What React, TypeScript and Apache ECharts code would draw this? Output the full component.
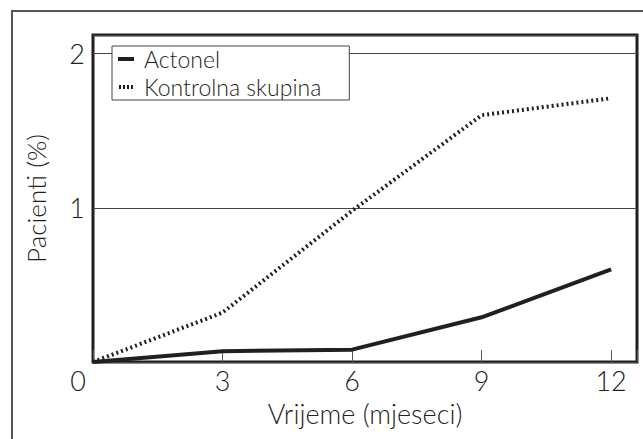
import React, { useEffect, useRef } from "react";
import * as echarts from "echarts";

const months = [0, 3, 6, 9, 12];
const actonel = [0, 0.07, 0.08, 0.29, 0.6];
const kontrolna = [0, 0.32, 0.98, 1.6, 1.71];
const seriesNames = ["Actonel", "Kontrolna skupina"];
const xTitle = "Vrijeme (mjeseci)";
const yTitle = "Pacienti (%)";
const originLabel = "0";

const FONT = "Lato";
const INK = "#231f20";
const SOLID_ICON = "path://M0,0H16V4H0Z";
const DOT_ICON = "path://M0,0H2V4H0Z M4,0H6V4H4Z M8,0H10V4H8Z M12,0H14V4H12Z";

export default function App() {
  const ref = useRef<HTMLDivElement>(null);
  useEffect(() => {
    if (!ref.current) return;
    const chart = echarts.init(ref.current, null, { renderer: "svg" });
    chart.setOption({
      animation: false,
      backgroundColor: "#ffffff",
      textStyle: { fontFamily: FONT, color: INK, fontWeight: 300 },
      grid: {
        left: 93,
        right: 6,
        top: 35,
        bottom: 77,
        show: true,
        borderColor: INK,
        borderWidth: 3,
        backgroundColor: "transparent",
      },
      legend: {
        orient: "vertical",
        left: 112,
        top: 46,
        backgroundColor: "#ffffff",
        borderColor: "#444",
        borderWidth: 1,
        borderRadius: 0,
        padding: [0, 28, 0, 6],
        itemGap: 2,
        itemWidth: 16,
        itemHeight: 4,
        textStyle: {
          fontFamily: FONT,
          fontWeight: 300,
          fontSize: 23,
          color: INK,
          lineHeight: 26,
          padding: [0, 0, 0, 5],
        },
        data: [
          { name: seriesNames[0], icon: SOLID_ICON },
          { name: seriesNames[1], icon: DOT_ICON },
        ],
      },
      xAxis: {
        type: "value",
        min: 0,
        max: 12.6,
        interval: 3,
        name: xTitle,
        nameLocation: "middle",
        nameGap: 38,
        nameTextStyle: { fontFamily: FONT, fontWeight: 300, fontSize: 27, color: INK },
        axisLine: { show: false },
        axisTick: { show: true, inside: true, length: 12, lineStyle: { color: "#555", width: 1 } },
        axisLabel: {
          margin: 5,
          fontFamily: FONT,
          fontWeight: 300,
          fontSize: 27,
          color: INK,
          formatter: (v: number) => (v > 0 && v % 3 === 0 ? String(v) : ""),
        },
        splitLine: { show: false },
      },
      yAxis: {
        type: "value",
        min: 0,
        max: 2.12,
        interval: 1,
        name: yTitle,
        nameLocation: "middle",
        nameGap: 44,
        nameTextStyle: { fontFamily: FONT, fontWeight: 300, fontSize: 26, color: INK },
        axisLine: { show: false },
        axisTick: { show: false },
        axisLabel: {
          margin: 8,
          fontFamily: FONT,
          fontWeight: 300,
          fontSize: 27,
          color: INK,
          formatter: (v: number) => (v > 0 && Number.isInteger(v) ? String(v) : ""),
        },
        splitLine: { show: true, lineStyle: { color: "#444", width: 1 } },
      },
      graphic: [
        {
          type: "rect",
          shape: { x: 12, y: 11, width: 700, height: 500 },
          style: { fill: "none", stroke: "#555", lineWidth: 2 },
          silent: true,
        },
        {
          type: "text",
          x: 78,
          y: 380,
          style: {
            text: originLabel,
            fontFamily: FONT,
            fontWeight: 300,
            fontSize: 27,
            fill: INK,
            textAlign: "center",
            textVerticalAlign: "middle",
          },
        },
      ],
      series: [
        {
          name: seriesNames[0],
          type: "line",
          symbol: "none",
          data: months.map((m, i) => [m, actonel[i]]),
          lineStyle: { color: INK, width: 4 },
          itemStyle: { color: INK },
          z: 3,
        },
        {
          name: seriesNames[1],
          type: "line",
          symbol: "none",
          data: months.map((m, i) => [m, kontrolna[i]]),
          lineStyle: { color: INK, width: 4, type: [2, 3] },
          itemStyle: { color: INK },
          z: 3,
        },
      ],
    });
    return () => chart.dispose();
  }, []);
  return (
    <div
      ref={ref}
      style={{ position: "fixed", left: 0, top: 0, width: 643, height: 439, background: "#fff" }}
    />
  );
}
